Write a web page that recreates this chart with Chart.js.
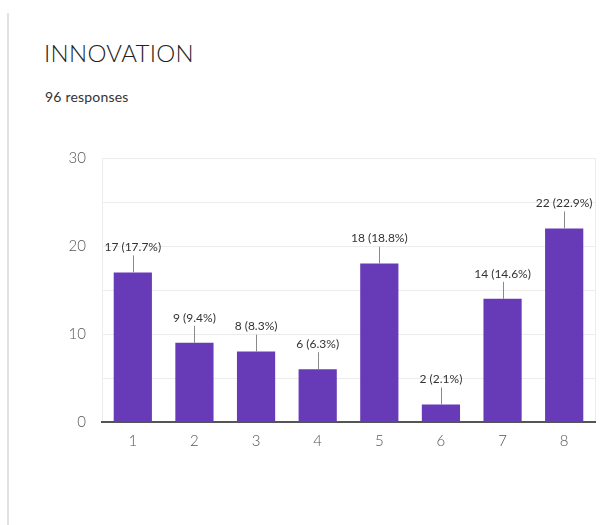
<!DOCTYPE html>
<html>
<head>
<meta charset="utf-8">
<script src="https://cdn.jsdelivr.net/npm/chart.js@4/dist/chart.umd.min.js"></script>
<style>
  body { margin: 0; background: #fff; }
  .card { position: relative; width: 609px; height: 525px; overflow: hidden; }
  .edge { position: absolute; left: 7px; top: 13px; width: 2px; height: 520px; background: #e2e2e2; }
  .title { position: absolute; left: 44px; top: 38px; font: 300 24px Lato, sans-serif; color: #222; letter-spacing: 0.3px; }
  .sub { position: absolute; left: 45px; top: 88px; font: 14px Lato, sans-serif; color: #333; letter-spacing: 0.2px; }
  .chart-box { position: absolute; left: 0; top: 133px; width: 609px; height: 337px; }
</style>
</head>
<body>
<div class="card">
  <div class="edge"></div>
  <div class="title">INNOVATION</div>
  <div class="sub">96 responses</div>
  <div class="chart-box"><canvas id="innovation_chart"></canvas></div>
</div>
<script>
const categories = ['1', '2', '3', '4', '5', '6', '7', '8'];
const counts = [17, 9, 8, 6, 18, 2, 14, 22];
const percents = ['17.7', '9.4', '8.3', '6.3', '18.8', '2.1', '14.6', '22.9'];
const y_ticks = [0, 10, 20, 30];

// value labels sit above each bar, joined to it by a short grey stem
const stem_labels = {
    id: 'stem_labels',
    afterDatasetsDraw(chart) {
        const ctx = chart.ctx;
        const meta = chart.getDatasetMeta(0);
        ctx.save();
        meta.data.forEach((bar, i) => {
            const top = bar.y;
            ctx.strokeStyle = '#8a8a8a';
            ctx.lineWidth = 1;
            ctx.beginPath();
            ctx.moveTo(Math.round(bar.x) + 0.5, top);
            ctx.lineTo(Math.round(bar.x) + 0.5, top - 17);
            ctx.stroke();
            ctx.fillStyle = '#333';
            ctx.font = '12px Lato, sans-serif';
            ctx.textAlign = 'center';
            ctx.textBaseline = 'middle';
            ctx.fillText(`${counts[i]} (${percents[i]}%)`, bar.x, top - 25);
        });
        ctx.restore();
    }
};

const canvas = document.getElementById('innovation_chart');
const config = {
    type: 'bar',
    data: {
        labels: categories,
        datasets: [
            {
                label: 'Responses',
                data: counts,
                backgroundColor: '#673ab7',
                borderWidth: 0,
                barPercentage: 0.62,
                categoryPercentage: 1.0,
            }
        ]
    },
    options: {
        responsive: true,
        maintainAspectRatio: false,
        animation: false,
        layout: {
            padding: { left: 60, right: 14, top: 5, bottom: 10 }
        },
        scales: {
            y: {
                min: 0,
                max: 30,
                afterFit: (scale) => { scale.width = 42; },
                ticks: {
                    stepSize: 5,
                    color: '#555',
                    padding: 16,
                    font: { family: 'Lato, sans-serif', size: 15, weight: 300 },
                    callback: (v) => y_ticks.includes(v) ? v : ''
                },
                grid: {
                    color: '#ececec',
                    lineWidth: 1,
                    drawTicks: false,
                },
                border: { display: true, color: '#ececec' }
            },
            // right-hand frame line only
            y_right: {
                position: 'right',
                min: 0,
                max: 30,
                afterFit: (scale) => { scale.width = 0; },
                ticks: { display: false },
                grid: { display: false, drawTicks: false },
                border: { display: true, color: '#ececec' }
            },
            x: {
                ticks: {
                    color: '#555',
                    padding: 10,
                    font: { family: 'Lato, sans-serif', size: 15, weight: 300 }
                },
                grid: {
                    display: false,
                    drawTicks: false,
                },
                border: { display: true, color: '#555', width: 2 }
            }
        },
        plugins: {
            legend: { display: false },
            tooltip: { enabled: false }
        }
    },
    plugins: [stem_labels]
};
new Chart(canvas, config);
</script>
</body>
</html>
